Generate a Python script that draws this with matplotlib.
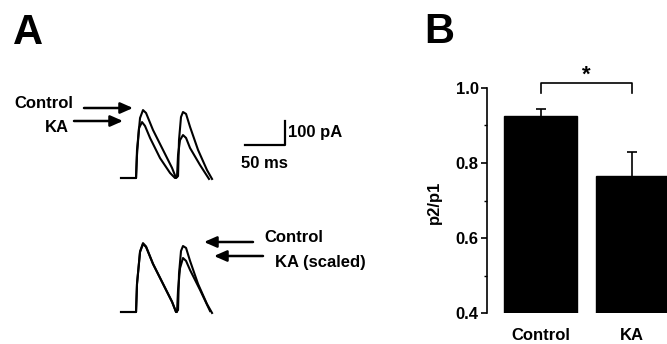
import matplotlib
matplotlib.use("Agg")
import matplotlib.pyplot as plt

plt.rcParams['font.family'] = ['Liberation Sans', 'DejaVu Sans']
plt.rcParams['font.weight'] = 'bold'

# ---------------- data ----------------
# Panel B: paired-pulse ratio
categories = ["Control", "KA"]
ratio_mean = [0.925, 0.766]
ratio_sem = [0.020, 0.064]
yticks_major = [0.4, 0.6, 0.8, 1.0]
yticks_minor = [0.5, 0.7, 0.9]

# Panel A: example EPSC traces (time in ms, current in pA, displayed upward)
ctrl_t = [0, 18.8, 20, 23.8, 27.5, 31.3, 40, 52.5, 63.8, 68.8,
          71.3, 72.5, 75, 77.5, 81.3, 86.3, 96.3, 107.5, 113.8]
ctrl_i = [0, 0, 117, 250, 283, 271, 200, 117, 42, 0,
          8, 158, 254, 275, 267, 213, 117, 33, -4]

ka_t = [0, 18.8, 20, 22.5, 26.3, 30, 36.3, 48.8, 61.3, 67.5,
        70, 71.3, 73.8, 77.5, 81.3, 86.3, 98.8, 110]
ka_i = [0, 0, 96, 208, 233, 217, 167, 83, 21, 0,
        4, 96, 158, 179, 167, 125, 54, -4]

ka_scaled_t = [0, 18.8, 20, 23.8, 27.5, 31.3, 40, 52.5, 63.8, 68.8,
               70, 71.3, 73.8, 77.5, 81.3, 86.3, 98.8, 111.3]
ka_scaled_i = [0, 0, 117, 252, 287, 273, 201, 118, 43, 0,
               0, 92, 183, 225, 213, 175, 92, 4]

scale_ms = 50
scale_pA = 100

# ---------------- figure ----------------
W, H = 667, 344
fig = plt.figure(figsize=(W / 100, H / 100), dpi=100)

def rect(x0, y0, x1, y1):
    return [x0 / W, 1 - y1 / H, (x1 - x0) / W, (y1 - y0) / H]

# overlay in pixel coordinates for labels and arrows
ov = fig.add_axes([0, 0, 1, 1])
ov.set_xlim(0, W)
ov.set_ylim(H, 0)
ov.axis('off')

# trace axes (same scale: 0.8 px/ms, 0.24 px/pA)
tx = (-13.75, 223.75)
ty = (-50, 325)
ax_top = fig.add_axes(rect(110, 100, 300, 190))
ax_bot = fig.add_axes(rect(110, 234, 300, 324))
for a in (ax_top, ax_bot):
    a.set_xlim(*tx)
    a.set_ylim(*ty)
    a.axis('off')

lw_tr = 1.5
ax_top.plot(ctrl_t, ctrl_i, color='k', lw=lw_tr, solid_joinstyle='round')
ax_top.plot(ka_t, ka_i, color='k', lw=lw_tr, solid_joinstyle='round')
ax_bot.plot(ctrl_t, ctrl_i, color='k', lw=lw_tr, solid_joinstyle='round')
ax_bot.plot(ka_scaled_t, ka_scaled_i, color='k', lw=lw_tr, solid_joinstyle='round')

# scale bar
sb_t0, sb_i0 = 155, 137.5
ax_top.plot([sb_t0, sb_t0 + scale_ms, sb_t0 + scale_ms],
            [sb_i0, sb_i0, sb_i0 + scale_pA], color='k', lw=1.6, clip_on=False)
ov.text(288, 133, f"{scale_pA} pA", fontsize=12, fontweight='bold', ha='left', va='center')
ov.text(241, 163, f"{scale_ms} ms", fontsize=12, fontweight='bold', ha='left', va='center')

# panel letters
ov.text(13, 44, "A", fontsize=30, fontweight='bold', ha='left', va='baseline')
ov.text(424, 43, "B", fontsize=30, fontweight='bold', ha='left', va='baseline')

# arrows and labels
aprops = dict(arrowstyle='-|>,head_length=0.75,head_width=0.33', lw=1.8,
              color='k', mutation_scale=10, shrinkA=0, shrinkB=0)
ov.annotate('', xy=(133, 108), xytext=(84, 108), arrowprops=aprops)
ov.annotate('', xy=(123, 121), xytext=(74, 121), arrowprops=aprops)
ov.text(14, 104, "Control", fontsize=12, fontweight='bold', ha='left', va='center')
ov.text(45, 128, "KA", fontsize=12, fontweight='bold', ha='left', va='center')

ov.annotate('', xy=(204, 242), xytext=(253, 242), arrowprops=aprops)
ov.annotate('', xy=(214, 256), xytext=(263, 256), arrowprops=aprops)
ov.text(264, 237, "Control", fontsize=12, fontweight='bold', ha='left', va='center')
ov.text(275, 262, "KA (scaled)", fontsize=12, fontweight='bold', ha='left', va='center')

# ---------------- panel B ----------------
axb = fig.add_axes(rect(487, 88, 667, 313))
x = list(range(len(categories)))
axb.bar(x, ratio_mean, width=0.8, bottom=0, color='k', edgecolor='k')
tops = [m + e for m, e in zip(ratio_mean, ratio_sem)]
axb.vlines(x, ratio_mean, tops, color='k', lw=1.2)
axb.hlines(tops, [xi - 0.055 for xi in x], [xi + 0.055 for xi in x], color='k', lw=1.2)
axb.set_xlim(-0.585, 1.38)
axb.set_ylim(0.4, 1.0)
for s in ('top', 'right', 'bottom'):
    axb.spines[s].set_visible(False)
axb.spines['left'].set_linewidth(1.2)
axb.set_yticks(yticks_major)
axb.set_yticklabels([f"{v:.1f}" for v in yticks_major])
axb.set_yticks(yticks_minor, minor=True)
axb.tick_params(axis='y', which='major', length=4, width=1.2, pad=2, labelsize=12)
axb.tick_params(axis='y', which='minor', length=2, width=1.0)
axb.set_xticks(x)
axb.set_xticklabels(categories)
axb.tick_params(axis='x', length=0, pad=11, labelsize=12)
for lab in axb.get_xticklabels() + axb.get_yticklabels():
    lab.set_fontweight('bold')
axb.set_ylabel("p2/p1", fontsize=12, fontweight='bold')
axb.yaxis.set_label_coords(-0.25, 0.49)

# significance bracket
axb.plot([0, 0, 1, 1], [0.987, 1.013, 1.013, 0.987], color='k', lw=1.2, clip_on=False)
axb.text(0.5, 1.035, "*", fontsize=16, fontweight='bold', ha='center', va='center', clip_on=False)

fig.savefig("out.png", dpi=100)
